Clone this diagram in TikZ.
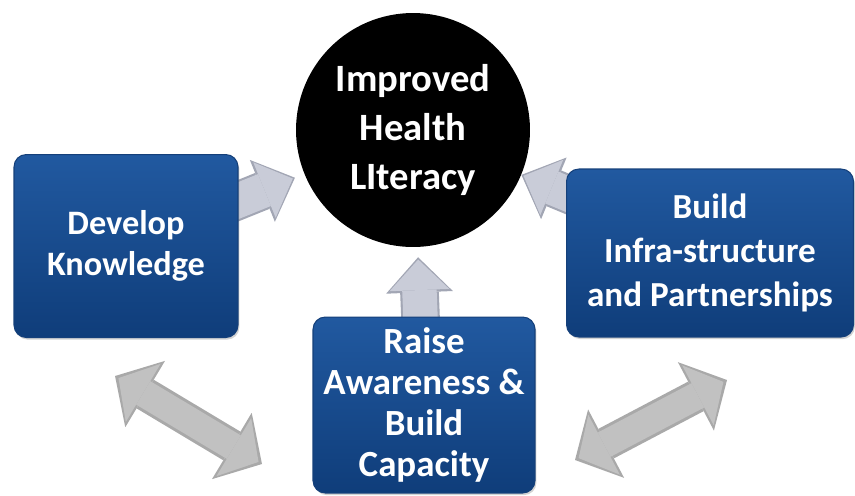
\documentclass[tikz,border=0pt]{standalone}
\usepackage{fontspec}
\setmainfont{Carlito}
\usetikzlibrary{arrows.meta,shadows,backgrounds}

\definecolor{boxtop}{HTML}{2159A0}
\definecolor{boxbottom}{HTML}{0F3D7A}
\definecolor{boxedge}{HTML}{15407A}
\definecolor{silveredge}{HTML}{A2A6B4}
\definecolor{silverfill}{HTML}{C9CCD8}
\definecolor{greyedge}{HTML}{A9A9A9}
\definecolor{greyfill}{HTML}{C1C1C1}

\tikzset{
  goalbox/.style={rounded corners=7pt, draw=boxedge, line width=0.6pt,
    top color=boxtop, bottom color=boxbottom, text=white, align=center,
    drop shadow={opacity=0.35, shadow xshift=0.8pt, shadow yshift=-1.2pt}},
  goalcircle/.style={circle, fill=black, text=white, align=center,
    minimum size=4.68cm, inner sep=0pt,
    font=\bfseries\fontsize{22}{28}\selectfont},
  pushouter/.style={draw=silveredge, line width=22pt,
    -{Triangle[length=20pt,width=38pt,line width=0pt]}},
  pushinner/.style={draw=silverfill, line width=19.6pt,
    -{Triangle[length=17.4pt,width=34pt,line width=0pt]}},
  swapouter/.style={draw=greyedge, line width=19pt,
    {Triangle[length=20pt,width=44pt,line width=0pt]}-{Triangle[length=20pt,width=44pt,line width=0pt]}},
  swapinner/.style={draw=greyfill, line width=15.6pt, shorten <=2.3pt, shorten >=2.3pt,
    {Triangle[length=16.4pt,width=38.5pt,line width=0pt]}-{Triangle[length=16.4pt,width=38.5pt,line width=0pt]}}
}

\begin{document}
\begin{tikzpicture}[x=0.02cm, y=-0.02cm]
  \useasboundingbox (0,0) rectangle (855,495);

  % goal and the three strands
  \node[goalcircle] (literacy) at (413,130) {Improved\\Health\\LIteracy};
  \node[goalbox, minimum width=4.48cm, minimum height=3.66cm,
    font=\bfseries\fontsize{19.5}{23}\selectfont] (knowledge) at (126,246) {Develop\\Knowledge};
  \node[goalbox, minimum width=5.74cm, minimum height=3.36cm,
    font=\bfseries\fontsize{20}{25}\selectfont] (infra) at (710,253) {Build\\Infra-structure\\and Partnerships};
  \node[goalbox, minimum width=4.44cm, minimum height=3.52cm,
    font=\bfseries\fontsize{21}{23.5}\selectfont] (awareness) at (424,405) {Raise\\Awareness \&\\Build\\Capacity};

  \coordinate (swapK) at (115,376);
  \coordinate (swapAL) at (262,464);
  \coordinate (swapAR) at (575,460);
  \coordinate (swapI) at (727,380);

  \begin{scope}[on background layer]
    % arrows into the goal
    \draw[pushouter, shorten >=5.7pt] (knowledge.center) -- (literacy);
    \draw[pushinner, shorten >=7pt] (knowledge.center) -- (literacy);
    \draw[pushouter] (infra.center) -- (literacy);
    \draw[pushinner, shorten >=1.3pt] (infra.center) -- (literacy);
    \draw[pushouter, shorten >=5.7pt] (awareness.center) -- (literacy);
    \draw[pushinner, shorten >=7pt] (awareness.center) -- (literacy);
  \end{scope}

  % links between the strands
  \draw[swapouter] (swapK) -- (swapAL);
  \draw[swapinner] (swapK) -- (swapAL);
  \draw[swapouter] (swapAR) -- (swapI);
  \draw[swapinner] (swapAR) -- (swapI);
\end{tikzpicture}
\end{document}
